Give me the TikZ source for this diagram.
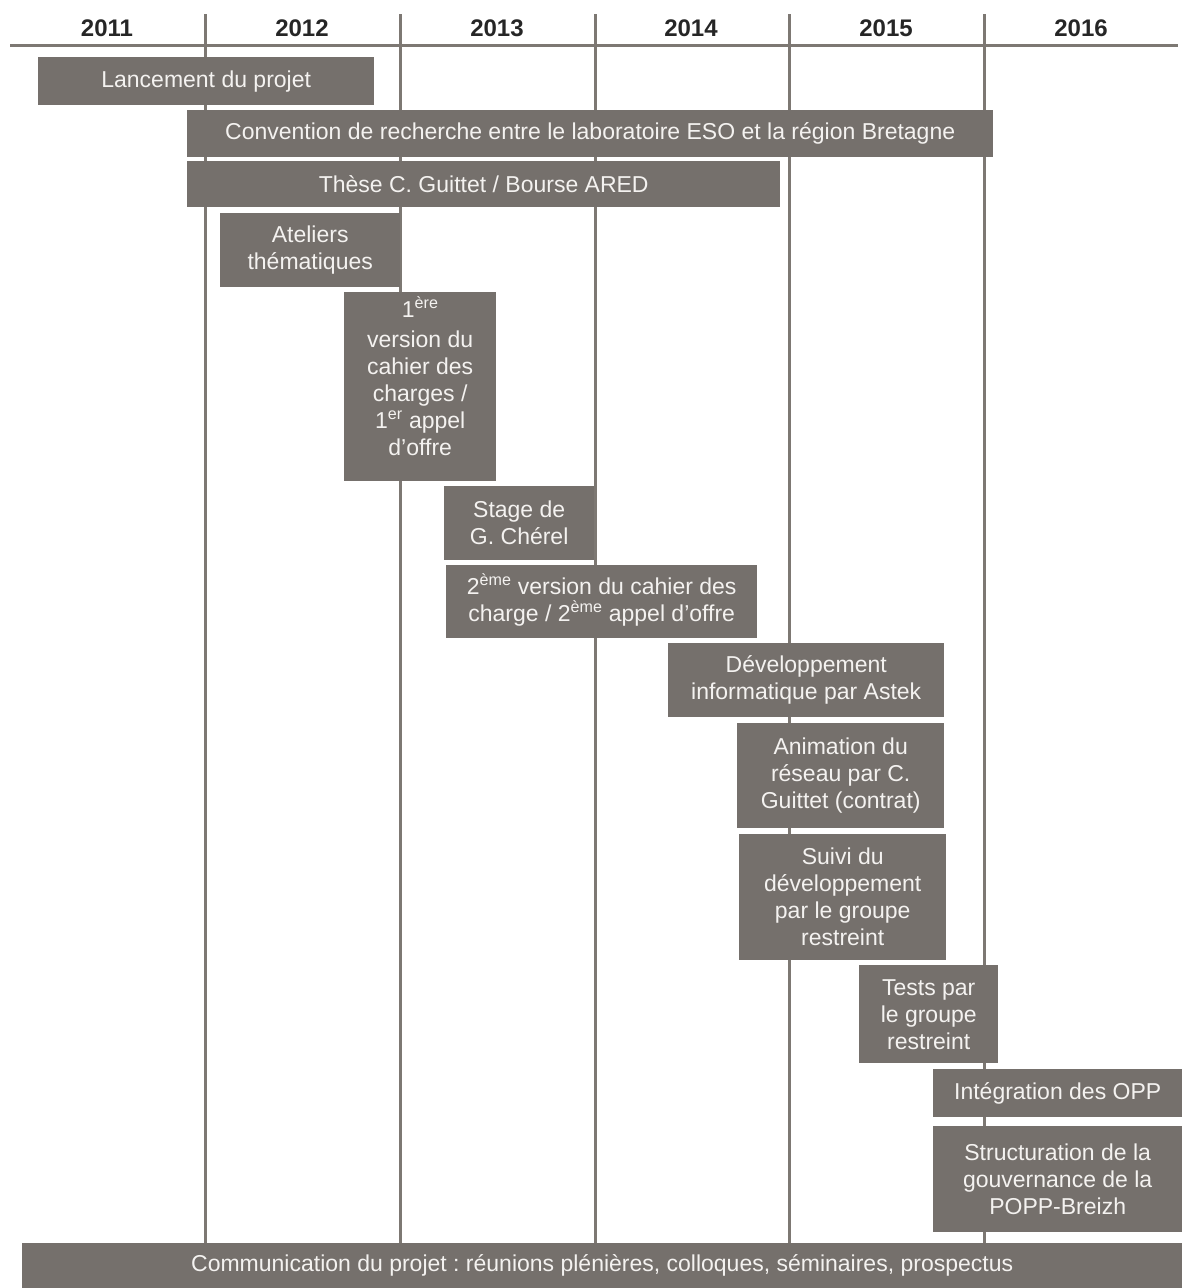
\documentclass[tikz,border=0pt]{standalone}
\usepackage{fontspec}
\setmainfont{Liberation Sans}
\definecolor{bargray}{HTML}{75706C}
\definecolor{linegray}{HTML}{7D7873}
\definecolor{bartext}{HTML}{F4F2F0}
\newcommand{\ord}[1]{\smash{\textsuperscript{#1}}}
\frenchspacing

\begin{document}
\begin{tikzpicture}[
    x=1pt, y=-1pt,
    year/.style={font=\fontsize{24}{28}\selectfont\bfseries, text=black!85},
    bar/.style={fill=bargray, text=bartext, anchor=north west, align=center,
                inner sep=2pt, font=\fontsize{23}{27}\selectfont},
    grid/.style={draw=linegray, line width=3pt},
]
\useasboundingbox (0,0) rectangle (1182,1288);

% years
\node[year] (y2011) at (107,28) {2011};
\node[year] (y2012) at (302,28) {2012};
\node[year] (y2013) at (497,28) {2013};
\node[year] (y2014) at (691,28) {2014};
\node[year] (y2015) at (886,28) {2015};
\node[year] (y2016) at (1081,28) {2016};

% grid
\draw[grid] (10,45) -- (1178,45);
\draw[grid] (205,14) -- (205,1243);
\draw[grid] (400,14) -- (400,1243);
\draw[grid] (595,14) -- (595,1243);
\draw[grid] (789,14) -- (789,1243);
\draw[grid] (984,14) -- (984,1243);

% tasks
\node[bar, minimum width=336, minimum height=48] (lanc) at (38,57) {Lancement du projet};
\node[bar, minimum width=806, minimum height=47] (conv) at (187,110)
    {Convention de recherche entre le laboratoire ESO et la région Bretagne};
\node[bar, minimum width=593, minimum height=46] (these) at (187,161)
    {Thèse C. Guittet / Bourse ARED};
\node[bar, minimum width=180, minimum height=74] (atel) at (220,213)
    {Ateliers\\thématiques};
\node[bar, minimum width=152, minimum height=189] (cdc1) at (344,292)
    {\smash{1\textsuperscript{ère}}\\[3pt]version du\\cahier des\\charges /\\1\ord{er} appel\\d’offre};
\node[bar, minimum width=150, minimum height=74] (stage) at (444,486)
    {Stage de\\G. Chérel};
\node[bar, minimum width=311, minimum height=73] (cdc2) at (446,565)
    {2\ord{ème} version du cahier des\\charge / 2\ord{ème} appel d’offre};
\node[bar, minimum width=276, minimum height=74] (dev) at (668,643)
    {Développement\\informatique par Astek};
\node[bar, minimum width=207, minimum height=105] (anim) at (737,723)
    {Animation du\\réseau par C.\\Guittet (contrat)};
\node[bar, minimum width=207, minimum height=126] (suivi) at (739,834)
    {Suivi du\\développement\\par le groupe\\restreint};
\node[bar, minimum width=139, minimum height=98] (tests) at (859,965)
    {Tests par\\le groupe\\restreint};
\node[bar, minimum width=249, minimum height=48] (integ) at (933,1069)
    {Intégration des OPP};
\node[bar, minimum width=249, minimum height=106] (struct) at (933,1126)
    {Structuration de la\\gouvernance de la\\POPP-Breizh};
\node[bar, minimum width=1160, minimum height=45] (comm) at (22,1243)
    {Communication du projet : réunions plénières, colloques, séminaires, prospectus};

\end{tikzpicture}
\end{document}
